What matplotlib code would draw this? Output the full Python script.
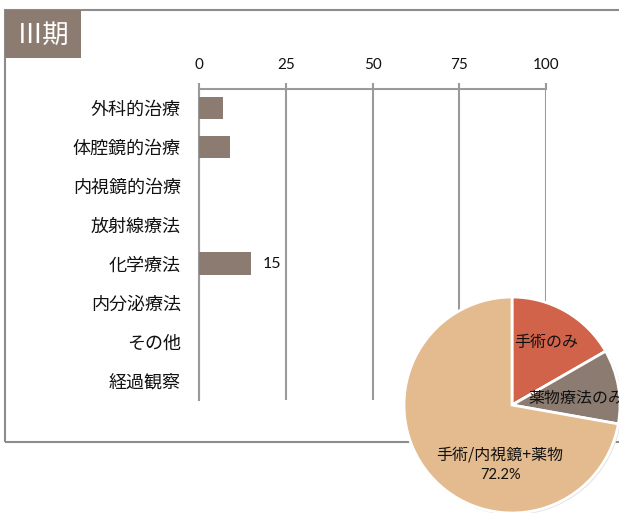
import matplotlib
matplotlib.use("Agg")
import matplotlib.pyplot as plt
from matplotlib.patches import Rectangle, Circle

plt.rcParams['font.family'] = ['Noto Sans CJK JP', 'DejaVu Sans']

# ---- data ----
title = "Ⅲ期"
categories = ["外科的治療", "体腔鏡的治療", "内視鏡的治療", "放射線療法",
              "化学療法", "内分泌療法", "その他", "経過観察"]
values = [7, 9, 0, 0, 15, 0, 0, 0]
labelled = [False, False, False, False, True, False, False, False]
xticks = [0, 25, 50, 75, 100]

pie_labels = ["手術のみ", "薬物療法のみ", "手術/内視鏡+薬物"]
pie_values = [16.7, 11.1, 72.2]
pie_colors = ["#D0634A", "#8B7B70", "#E3BB8E"]

BAR_COLOR = "#8B7B70"
GRID = "#9A9A9A"

W, H = 619, 513
fig = plt.figure(figsize=(W / 100, H / 100), dpi=100)

def fx(px):
    return px / W

def fy(py):
    return 1 - py / H

# outer frame
fig.patches.append(Rectangle((fx(4.5), fy(441.5)), fx(700) - fx(4.5), fy(10) - fy(441.5),
                             transform=fig.transFigure, fill=False,
                             edgecolor="#8C8C8C", linewidth=1.5, zorder=-1))
# title box
fig.patches.append(Rectangle((fx(5), fy(58)), fx(81) - fx(5), fy(10) - fy(58),
                             transform=fig.transFigure, facecolor=BAR_COLOR,
                             edgecolor="none", zorder=1))
fig.text(fx(43), fy(35), title, color="white", fontsize=19, ha="center",
         va="center", zorder=2)

# ---- bar chart ----
x0, x1, y0, y1 = 199, 546, 88.5, 400
ax = fig.add_axes([fx(x0), fy(y1), fx(x1) - fx(x0), fy(y0) - fy(y1)])
n = len(categories)
ypos = list(range(n))
ax.barh(ypos, values, height=0.58, color=BAR_COLOR, zorder=3)
ax.set_ylim(n - 0.5, -0.5)
ax.set_xlim(0, 100)
ax.set_yticks(ypos)
ax.set_yticklabels(categories, fontsize=13, color="#111111")
ax.tick_params(axis="y", length=0, pad=13)
ax.xaxis.tick_top()
ax.set_xticks(xticks)
ax.set_xticklabels([str(t) for t in xticks], fontsize=11, family=["Lato", "DejaVu Sans"],
                   color="#111111")
ax.tick_params(axis="x", length=4, width=1.5, color=GRID, pad=8)
ax.grid(axis="x", color=GRID, linewidth=1.5, zorder=0)
for s in ["bottom", "right"]:
    ax.spines[s].set_visible(False)
ax.spines["top"].set_color(GRID)
ax.spines["top"].set_linewidth(1.5)
ax.spines["left"].set_color(GRID)
ax.spines["left"].set_linewidth(1.5)
for y, v, lab in zip(ypos, values, labelled):
    if lab:
        ax.annotate(str(v), (v, y), xytext=(8.5, 0), textcoords="offset points",
                    va="center", ha="left", fontsize=11.5, family=["Lato", "DejaVu Sans"],
                    color="#111111")

# ---- pie chart ----
cx, cy, r = 512, 405, 108
pax = fig.add_axes([fx(cx - r), fy(cy + r), fx(2 * r), (2 * r) / H], zorder=5)
pax.set_facecolor("none")
pax.add_patch(Circle((0.012, -0.012), 1.0, color="#E4E4E4", zorder=0))
wedges, _ = pax.pie(pie_values, colors=pie_colors, startangle=90, counterclock=False,
                    radius=1.0, wedgeprops=dict(edgecolor="white", linewidth=2))
pax.set_xlim(-1, 1)
pax.set_ylim(-1, 1)
pax.set_aspect("equal")
pax.axis("off")
pax.text(0.32, 0.58, pie_labels[0], ha="center", va="center", fontsize=11.5, color="#111111")
pax.text(0.15, 0.056, pie_labels[1], ha="left", va="center", fontsize=11.5, color="#111111")
pax.text(-0.11, -0.46, pie_labels[2], ha="center", va="center", fontsize=11.5, color="#111111")
pax.text(-0.11, -0.65, f"{pie_values[2]:.1f}%", ha="center", va="center", fontsize=10.5,
         color="#111111", family=["Lato", "DejaVu Sans"])

fig.savefig("out.png", dpi=100)
